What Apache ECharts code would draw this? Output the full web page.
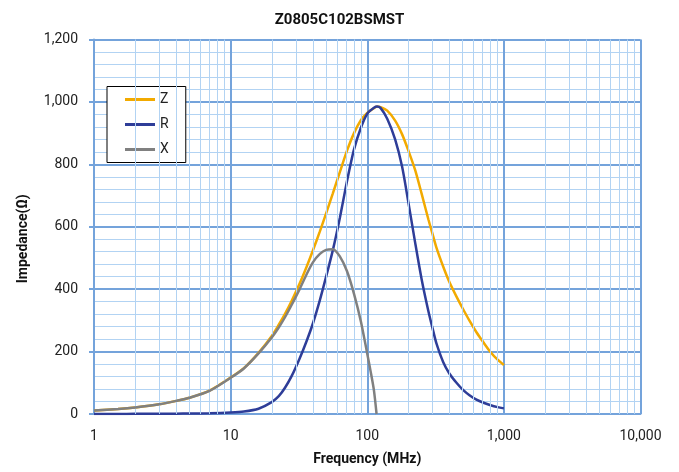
<!DOCTYPE html>
<html>
<head>
<meta charset="utf-8">
<script src="https://cdn.jsdelivr.net/npm/echarts@6/dist/echarts.min.js"></script>
<style>
html,body{margin:0;padding:0;background:#fff;}
#chart{width:679px;height:472px;}
</style>
</head>
<body>
<div id="chart"></div>
<script>
// Frequencies (MHz) for Z and R
const freqs = [1, 1.5, 2, 3, 4, 5, 7, 10, 12.5, 16, 20, 22.5, 25, 28, 32, 36, 40, 45, 50, 56, 63, 71, 80, 90, 100, 112, 118, 125, 140, 160, 180, 200, 224, 250, 280, 300, 320, 360, 400, 450, 500, 560, 630, 710, 800, 900, 1000];
const zValues = [11, 16, 21, 31, 42, 52, 75, 117, 147, 196, 250, 286, 321, 363, 418, 472, 524, 585, 643, 707, 775, 843, 900, 942, 965, 980, 985, 983, 972, 940, 896, 844, 782, 706, 624, 578, 535, 472, 422, 376, 338, 299, 262, 229, 198, 174, 157];
const rValues = [0.2, 0.3, 0.5, 0.8, 1.1, 1.5, 2.5, 5, 8, 17, 38, 57, 84, 122, 178, 234, 290, 365, 440, 525, 628, 745, 848, 918, 962, 981, 985, 981, 946, 880, 792, 678, 550, 432, 330, 276, 228, 166, 129, 100, 78, 60, 46, 36, 28, 22, 18];
// Frequencies (MHz) and values for X (ends at resonance)
const xFreqs = [1, 1.5, 2, 3, 4, 5, 7, 10, 12.5, 16, 20, 22.5, 25, 28, 32, 36, 40, 45, 50, 56, 63, 71, 80, 90, 100, 106, 112, 117];
const xValues = [11, 16, 21, 31, 42, 52, 74, 116, 146, 194, 245, 277, 310, 350, 400, 448, 486, 513, 526, 528, 505, 458, 385, 295, 193, 135, 75, 0];
// Axis ticks
const xTicks = [1, 10, 100, 1000, 10000];
const yTicks = [0, 200, 400, 600, 800, 1000, 1200];
const seriesNames = ['Z', 'R', 'X'];
const titleText = 'Z0805C102BSMST';

const minorX = [];
for (let i = 0; i < xTicks.length - 1; i++) {
  for (let d = 2; d <= 9; d++) minorX.push(xTicks[i] * d);
}

const MAJOR = '#74a3db';
const MINOR = '#b2d3f3';
const FONT = 'Roboto, "Liberation Sans", sans-serif';

const chart = echarts.init(document.getElementById('chart'), null, {renderer: 'canvas'});
chart.setOption({
  animation: false,
  backgroundColor: '#fff',
  textStyle: {fontFamily: FONT},
  title: {
    text: titleText, left: 'center', top: 8,
    textStyle: {fontFamily: FONT, fontSize: 15, fontWeight: 'bold', color: '#111'}
  },
  grid: {left: 94, right: 38.5, top: 39.5, bottom: 58, containLabel: false},
  legend: {
    data: seriesNames, orient: 'vertical', left: 107, top: 86.5,
    itemWidth: 30, itemHeight: 3, icon: 'rect', itemGap: 9,
    padding: [5, 17, 5, 18],
    borderColor: '#000', borderWidth: 1, backgroundColor: '#fff',
    textStyle: {fontFamily: FONT, fontSize: 14, color: '#222', lineHeight: 16}
  },
  xAxis: {
    type: 'log', logBase: 10, min: xTicks[0], max: xTicks[xTicks.length - 1],
    name: 'Frequency (MHz)', nameLocation: 'middle', nameGap: 38,
    nameTextStyle: {fontFamily: FONT, fontSize: 14, fontWeight: 'bold', color: '#111'},
    axisLine: {show: true, lineStyle: {color: MAJOR, width: 2}},
    axisTick: {show: false},
    axisLabel: {margin: 15, fontSize: 14, color: '#222', fontFamily: FONT,
      formatter: v => Number(v).toLocaleString('en-US')},
    splitLine: {show: true, lineStyle: {color: MAJOR, width: 2}},
    minorTick: {show: false},
    minorSplitLine: {show: false}
  },
  yAxis: {
    type: 'value', min: yTicks[0], max: yTicks[yTicks.length - 1], interval: 200,
    name: 'Impedance(Ω)', nameLocation: 'middle', nameGap: 64,
    nameTextStyle: {fontFamily: FONT, fontSize: 14, fontWeight: 'bold', color: '#111', padding: [0, 24, 0, 0]},
    axisLine: {show: true, lineStyle: {color: MAJOR, width: 2}},
    axisTick: {show: true, length: 5, lineStyle: {color: MAJOR, width: 2}},
    axisLabel: {margin: 16, fontSize: 14, color: '#222', fontFamily: FONT,
      formatter: v => Number(v).toLocaleString('en-US')},
    splitLine: {show: true, lineStyle: {color: MAJOR, width: 2}},
    minorTick: {show: false, splitNumber: 5},
    minorSplitLine: {show: true, lineStyle: {color: MINOR, width: 1}}
  },
  series: [
    {
      name: '_minor', type: 'line', data: [], silent: true, z: 0,
      markLine: {
        silent: true, symbol: ['none', 'none'], label: {show: false}, animation: false,
        lineStyle: {color: MINOR, width: 1, type: 'solid'},
        data: minorX.map(v => ({xAxis: v}))
      }
    },
    {
      name: 'Z', type: 'line', showSymbol: false, smooth: 0.25, z: 3,
      lineStyle: {color: '#f2aa00', width: 2.5}, itemStyle: {color: '#f2aa00'},
      data: freqs.map((f, i) => [f, zValues[i]])
    },
    {
      name: 'R', type: 'line', showSymbol: false, smooth: 0.25, z: 4,
      lineStyle: {color: '#2e3d98', width: 2.5}, itemStyle: {color: '#2e3d98'},
      data: freqs.map((f, i) => [f, rValues[i]])
    },
    {
      name: 'X', type: 'line', showSymbol: false, smooth: 0.25, z: 5,
      lineStyle: {color: '#808080', width: 2.5}, itemStyle: {color: '#808080'},
      data: xFreqs.map((f, i) => [f, xValues[i]])
    }
  ]
});
</script>
</body>
</html>
